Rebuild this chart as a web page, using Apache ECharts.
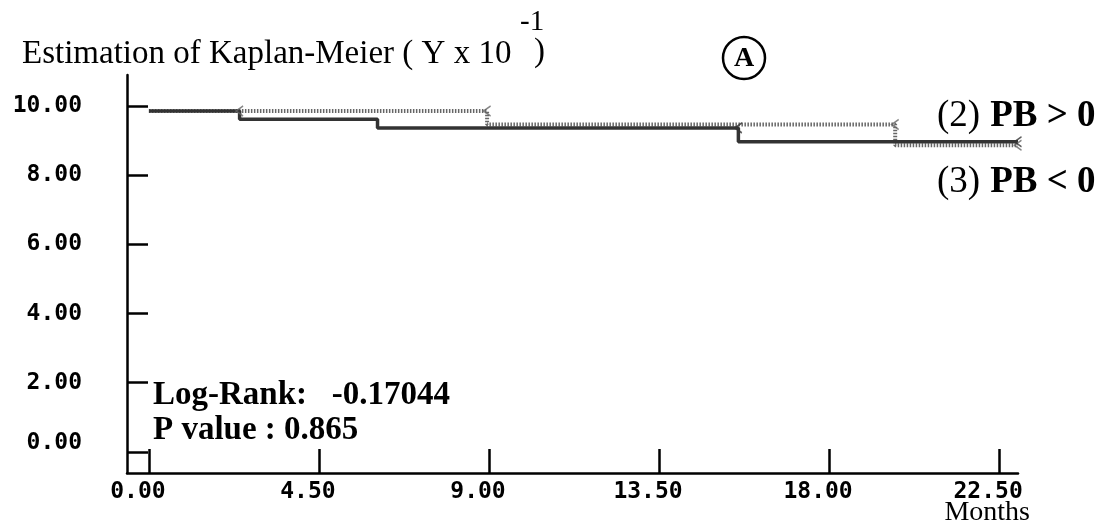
<!DOCTYPE html>
<html>
<head>
<meta charset="utf-8">
<script src="https://cdn.jsdelivr.net/npm/echarts@6/dist/echarts.min.js"></script>
<style>html,body{margin:0;padding:0;background:#fff}#c{width:1105px;height:531px}</style>
</head>
<body>
<div id="c"></div>
<script>
// ---- data ----
var xTicks = [0, 4.5, 9, 13.5, 18, 22.5];
var yTicks = [0, 2, 4, 6, 8, 10];
// (3) PB < 0 : step curve (time in months, survival x10)
var negTimes = [0, 2.4, 6.05, 15.6, 23.0];
var negValues = [9.86, 9.62, 9.37, 8.97, 8.97];
// (2) PB > 0
var posTimes = [0, 8.95, 19.75, 23.0];
var posValues = [9.86, 9.47, 8.87, 8.87];
// censored observations
var posCensorTimes = [2.4, 8.95, 19.75, 23.0];
var posCensorValues = [9.86, 9.86, 9.47, 8.87];
var negCensorTimes = [15.6, 23.0];
var negCensorValues = [9.37, 8.97];

function pairs(xs, ys) { return xs.map(function (x, i) { return [x, ys[i]]; }); }

var serif = '"Liberation Serif", "Times New Roman", serif';
var mono = '"DejaVu Sans Mono", monospace';

var chart = echarts.init(document.getElementById('c'), null, { renderer: 'canvas' });
chart.setOption({
  animation: false,
  backgroundColor: '#fff',
  grid: { left: 127, right: 87, top: 75, bottom: 58 },
  xAxis: {
    type: 'value', min: -0.58, max: 23.0,
    splitLine: { show: false },
    axisLine: { onZero: false, lineStyle: { color: '#000', width: 2.5 } },
    axisTick: { inside: true, length: 24, lineStyle: { color: '#000', width: 2.5 }, customValues: xTicks },
    axisLabel: {
      customValues: xTicks, margin: 8, color: '#000', fontFamily: mono, fontSize: 23, fontWeight: 'bold',
      padding: [0, 22, 0, 0],
      formatter: function (v) { return v.toFixed(2); }
    }
  },
  yAxis: {
    type: 'value', min: -0.61, max: 10.9,
    splitLine: { show: false },
    axisLine: { onZero: false, lineStyle: { color: '#000', width: 2.5 } },
    axisTick: { inside: true, length: 21, lineStyle: { color: '#000', width: 2.5 }, customValues: yTicks },
    axisLabel: {
      customValues: yTicks, margin: 45, color: '#000', fontFamily: mono, fontSize: 23, fontWeight: 'bold',
      formatter: function (v) { return v === 0 ? '{z|' + v.toFixed(2) + '}' : v.toFixed(2); },
      rich: { z: { fontFamily: mono, fontSize: 23, fontWeight: 'bold', color: '#000', padding: [0, 0, 18, 0] } }
    }
  },
  series: [
    {
      name: '(2) PB > 0', type: 'line', step: 'end', symbol: 'none',
      data: pairs(posTimes, posValues),
      lineStyle: { color: '#666', width: 4, type: [1.5, 1.5] }, z: 2
    },
    {
      name: '(3) PB < 0', type: 'line', step: 'end', symbol: 'none',
      data: pairs(negTimes, negValues),
      lineStyle: { color: '#333', width: 3.5 }, z: 3
    },
    {
      type: 'scatter', data: pairs(posCensorTimes, posCensorValues),
      symbol: 'path://M10,0 L0,5 L10,10', symbolSize: [7, 10],
      itemStyle: { color: 'rgba(0,0,0,0)', borderColor: '#666', borderWidth: 1.5 }, z: 4
    },
    {
      type: 'scatter', data: pairs(negCensorTimes, negCensorValues),
      symbol: 'path://M10,0 L0,5 L10,10', symbolSize: [7, 10],
      itemStyle: { color: 'rgba(0,0,0,0)', borderColor: '#333', borderWidth: 1.5 }, z: 4
    }
  ],
  graphic: [
    { type: 'text', left: 22, top: 38, style: { text: 'Estimation of Kaplan-Meier ( Y x 10', font: '33px ' + serif, fill: '#000' } },
    { type: 'text', left: 520, top: 8, style: { text: '-1', font: '29px ' + serif, fill: '#000' } },
    { type: 'text', left: 534, top: 36, style: { text: ')', font: '33px ' + serif, fill: '#000' } },
    { type: 'circle', shape: { cx: 744, cy: 58, r: 21 }, style: { fill: 'none', stroke: '#000', lineWidth: 2.5 } },
    { type: 'text', x: 744, y: 59, style: { text: 'A', font: 'bold 28px ' + serif, fill: '#000', align: 'center', verticalAlign: 'middle' } },
    { type: 'text', left: 937, top: 98, style: {
        text: '{a|(2)}   {b|PB > 0}',
        rich: { a: { font: '37px ' + serif, fill: '#000' }, b: { font: 'bold 37px ' + serif, fill: '#000' } } } },
    { type: 'text', left: 937, top: 164, style: {
        text: '{a|(3)}   {b|PB < 0}',
        rich: { a: { font: '37px ' + serif, fill: '#000' }, b: { font: 'bold 37px ' + serif, fill: '#000' } } } },
    { type: 'text', left: 153, top: 379, style: { text: 'Log-Rank:   -0.17044', font: 'bold 33px ' + serif, fill: '#000' } },
    { type: 'text', left: 153, top: 414, style: { text: 'P value : 0.865', font: 'bold 33px ' + serif, fill: '#000' } },
    { type: 'text', right: 75, top: 499, style: { text: 'Months', font: '28px ' + serif, fill: '#000' } }
  ]
});
</script>
</body>
</html>
